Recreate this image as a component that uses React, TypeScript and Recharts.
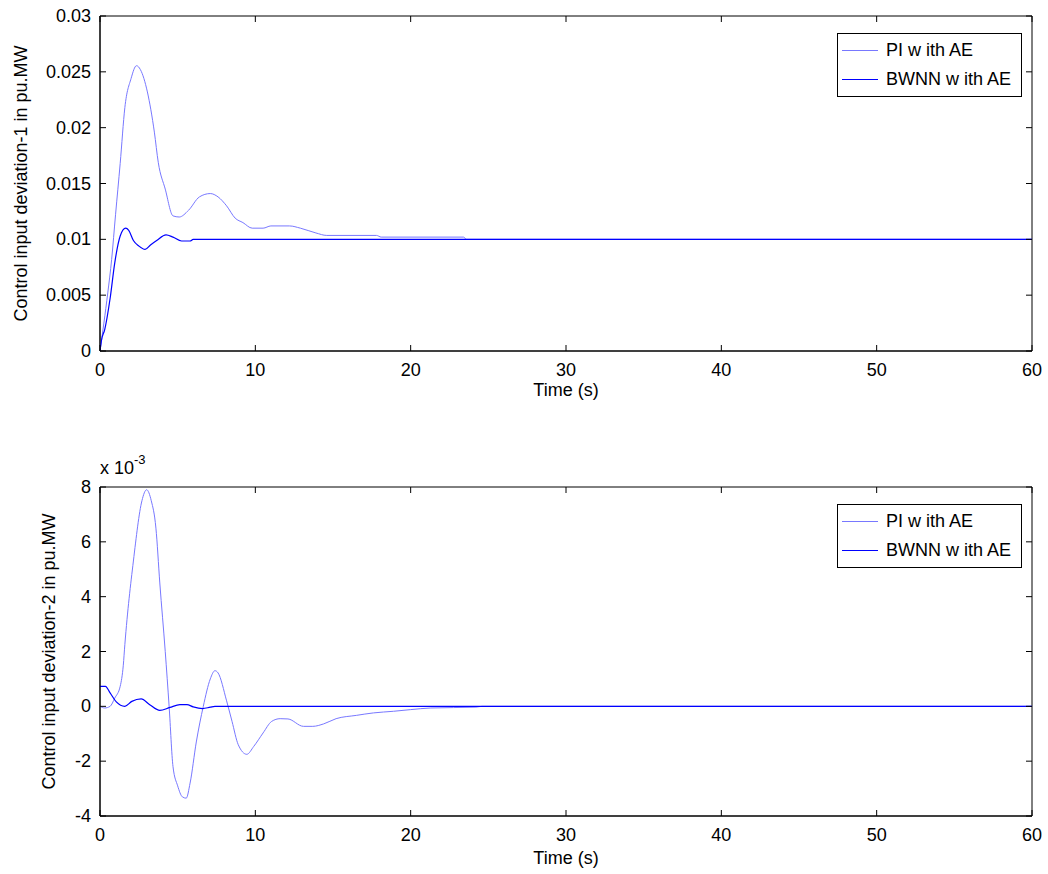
import { LineChart, Line, XAxis, YAxis, Legend, ReferenceArea } from 'recharts';

const FONT = '"Liberation Sans", Arial, sans-serif';

// [time (s), control input deviation-1 (pu.MW)]
const piArea1 = [
  [0, 0], [0.25, 0.0025], [0.5, 0.0052], [0.75, 0.0082], [1.0, 0.0122], [1.3, 0.0168],
  [1.6, 0.0218], [2.0, 0.0244], [2.35, 0.02555], [2.6, 0.0252], [3.05, 0.0232], [3.5, 0.0196],
  [3.75, 0.0169], [4.2, 0.0145], [4.7, 0.0121], [5.1, 0.012], [5.7, 0.0126], [6.4, 0.0138],
  [7.1, 0.0141], [7.6, 0.0138], [8.15, 0.013], [8.7, 0.0119], [9.2, 0.0115], [9.8, 0.011],
  [10.5, 0.011], [11.0, 0.0112], [12.2, 0.0112], [12.9, 0.011], [13.9, 0.01057], [14.6, 0.01035],
  [17.8, 0.01035], [18.1, 0.0102], [23.4, 0.0102], [23.6, 0.01], [60, 0.01],
];
const bwnnArea1 = [
  [0, 0], [0.1, 0.001], [0.3, 0.0019], [0.65, 0.0047], [0.95, 0.0079], [1.3, 0.0103],
  [1.65, 0.011], [1.85, 0.0108], [2.15, 0.0099], [2.5, 0.0094], [2.9, 0.0091], [3.25, 0.0095],
  [3.65, 0.0099], [4.25, 0.0104], [4.7, 0.0102], [5.25, 0.00985], [5.8, 0.00985], [6.0, 0.01],
  [60, 0.01],
];

// [time (s), control input deviation-2 (pu.MW)]
const piArea2 = [
  [0, 0], [0.3, -0.00006], [0.65, 0], [0.95, 0.0003], [1.3, 0.00073], [1.5, 0.0015],
  [1.6, 0.00225], [2.15, 0.0053], [2.7, 0.0075], [3.0, 0.0079], [3.3, 0.0075], [3.6, 0.0065],
  [3.85, 0.0045], [4.2, 0.002], [4.45, 0], [4.7, -0.0022], [5.0, -0.0029], [5.3, -0.0033],
  [5.55, -0.00335], [5.8, -0.0028], [6.2, -0.0013], [6.65, 0], [7.1, 0.001], [7.4, 0.0013],
  [7.6, 0.00122], [8.15, 0.0002], [8.5, -0.00055], [8.9, -0.0014], [9.45, -0.00175],
  [9.9, -0.00146], [10.5, -0.00097], [11.05, -0.00055], [11.6, -0.00045], [12.1, -0.00046],
  [13.1, -0.00073], [13.7, -0.00073], [14.4, -0.00064], [15.2, -0.00045], [16.5, -0.00033],
  [17.6, -0.00024], [18.9, -0.00018], [20.0, -0.00012], [21.3, -0.00006], [24.2, -0.00003],
  [24.6, 0], [60, 0],
];
const bwnnArea2 = [
  [0, 0.00073], [0.35, 0.00073], [0.65, 0.00049], [1.05, 0.00016], [1.6, 0], [2.05, 0.00018],
  [2.65, 0.00027], [3.2, 0.00006], [3.85, -0.00015], [4.5, -0.00004], [5.15, 0.00006],
  [5.6, 0.00006], [6.0, -0.00002], [6.6, -0.00008], [7.1, -0.00003], [7.4, 0], [60, 0],
];

const xTicks = [0, 10, 20, 30, 40, 50, 60];
const yTicks1 = [0, 0.005, 0.01, 0.015, 0.02, 0.025, 0.03];
const yTicks2 = [-0.004, -0.002, 0, 0.002, 0.004, 0.006, 0.008];

const SERIES = [
  { name: 'PI w ith AE', color: '#7878ff', width: 1 },
  { name: 'BWNN w ith AE', color: '#0000ff', width: 1.2 },
];

const PLOT_W = 932;

const toPoints = (rows: number[][]) => rows.map(([t, v]) => ({ t, v }));

const textProps = { fill: '#000', fontSize: 18, fontFamily: FONT };

// MATLAB style: ticks point into the box, on both opposite sides
const makeBottomTick = (plotH: number) => ({ x, y, payload }: any) => (
  <g>
    <line x1={x} x2={x} y1={y} y2={y - 6} stroke="#000" />
    <line x1={x} x2={x} y1={y - plotH} y2={y - plotH + 6} stroke="#000" />
    <text x={x} y={y + 19} textAnchor="middle" dominantBaseline="central" {...textProps}>
      {payload.value}
    </text>
  </g>
);
const makeLeftTick = (fmt: (v: number) => string) => ({ x, y, payload }: any) => (
  <g>
    <line x1={x} x2={x + 6} y1={y} y2={y} stroke="#000" />
    <line x1={x + PLOT_W - 6} x2={x + PLOT_W} y1={y} y2={y} stroke="#000" />
    <text x={x - 9} y={y} textAnchor="end" dominantBaseline="central" {...textProps}>
      {fmt(payload.value)}
    </text>
  </g>
);

function YTitle(props: any) {
  const vb = props.viewBox || {};
  const cx = props.cx;
  const cy = (vb.y ?? 0) + (vb.height ?? 0) / 2;
  return (
    <text
      x={cx}
      y={cy}
      transform={`rotate(-90 ${cx} ${cy})`}
      textAnchor="middle"
      dominantBaseline="central"
      {...textProps}
    >
      {props.text}
    </text>
  );
}

const renderLegend = () => (
  <div
    style={{
      border: '1px solid #000',
      background: '#fff',
      padding: '2px 10px 2px 4px',
      fontFamily: FONT,
      fontSize: 18,
      color: '#000',
      whiteSpace: 'nowrap',
    }}
  >
    {SERIES.map((s) => (
      <div key={s.name} style={{ display: 'flex', alignItems: 'center', height: 29 }}>
        <span style={{ display: 'inline-block', width: 36, borderTop: `1px solid ${s.color}`, marginRight: 8 }} />
        {s.name}
      </div>
    ))}
  </div>
);

interface PanelProps {
  height: number;
  top: number;
  xAxisH: number;
  plotH: number;
  labelOffset: number;
  pi: number[][];
  bwnn: number[][];
  yTicks: number[];
  yFmt: (v: number) => string;
  yTitle: string;
  titleX: number;
}

function Panel({ height, top, xAxisH, plotH, labelOffset, pi, bwnn, yTicks, yFmt, yTitle, titleX }: PanelProps) {
  const yMin = yTicks[0];
  const yMax = yTicks[yTicks.length - 1];
  const series = [pi, bwnn];
  return (
    <LineChart width={1048} height={height} margin={{ top, right: 16, bottom: 0, left: 0 }}>
      <XAxis
        xAxisId="b"
        dataKey="t"
        type="number"
        domain={[0, 60]}
        ticks={xTicks}
        interval={0}
        allowDataOverflow
        height={xAxisH}
        stroke="#000"
        tickLine={false}
        tickSize={0}
        tickMargin={0}
        tick={makeBottomTick(plotH)}
        label={{ value: 'Time (s)', position: 'insideBottom', offset: labelOffset, ...textProps }}
      />
      <YAxis
        yAxisId="l"
        type="number"
        domain={[yMin, yMax]}
        ticks={yTicks}
        interval={0}
        allowDataOverflow
        width={100}
        stroke="#000"
        tickLine={false}
        tickSize={0}
        tickMargin={0}
        tick={makeLeftTick(yFmt)}
        label={<YTitle text={yTitle} cx={titleX} />}
      />
      <ReferenceArea
        xAxisId="b"
        yAxisId="l"
        x1={0}
        x2={60}
        y1={yMin}
        y2={yMax}
        fill="none"
        fillOpacity={0}
        stroke="#000"
        strokeOpacity={1}
        strokeWidth={1}
      />
      <Legend
        layout="horizontal"
        verticalAlign="middle"
        align="center"
        wrapperStyle={{ top: top + 17, right: 26, left: 'auto', width: 'auto' }}
        content={renderLegend}
      />
      {SERIES.map((s, i) => (
        <Line
          key={s.name}
          xAxisId="b"
          yAxisId="l"
          data={toPoints(series[i])}
          dataKey="v"
          name={s.name}
          type="monotone"
          stroke={s.color}
          strokeWidth={s.width}
          dot={false}
          activeDot={false}
          isAnimationActive={false}
        />
      ))}
    </LineChart>
  );
}

export default function App() {
  return (
    <div style={{ position: 'absolute', left: 0, top: 0, width: 1048, height: 874, background: '#fff' }}>
      <div style={{ position: 'absolute', left: 0, top: 0 }}>
        <Panel
          height={420}
          top={16}
          xAxisH={69}
          plotH={335}
          labelOffset={24}
          pi={piArea1}
          bwnn={bwnnArea1}
          yTicks={yTicks1}
          yFmt={(v) => String(v)}
          yTitle="Control input deviation-1 in pu.MW"
          titleX={21}
        />
      </div>
      <div style={{ position: 'absolute', left: 0, top: 420 }}>
        <Panel
          height={454}
          top={67}
          xAxisH={58}
          plotH={329}
          labelOffset={10}
          pi={piArea2}
          bwnn={bwnnArea2}
          yTicks={yTicks2}
          yFmt={(v) => String(Math.round(v * 1000))}
          yTitle="Control input deviation-2 in pu.MW"
          titleX={49}
        />
      </div>
      <div style={{ position: 'absolute', left: 100, top: 458, fontFamily: FONT, fontSize: 18, color: '#000', whiteSpace: 'nowrap' }}>
        x 10<span style={{ fontSize: 13, position: 'relative', top: -10 }}>-3</span>
      </div>
    </div>
  );
}
